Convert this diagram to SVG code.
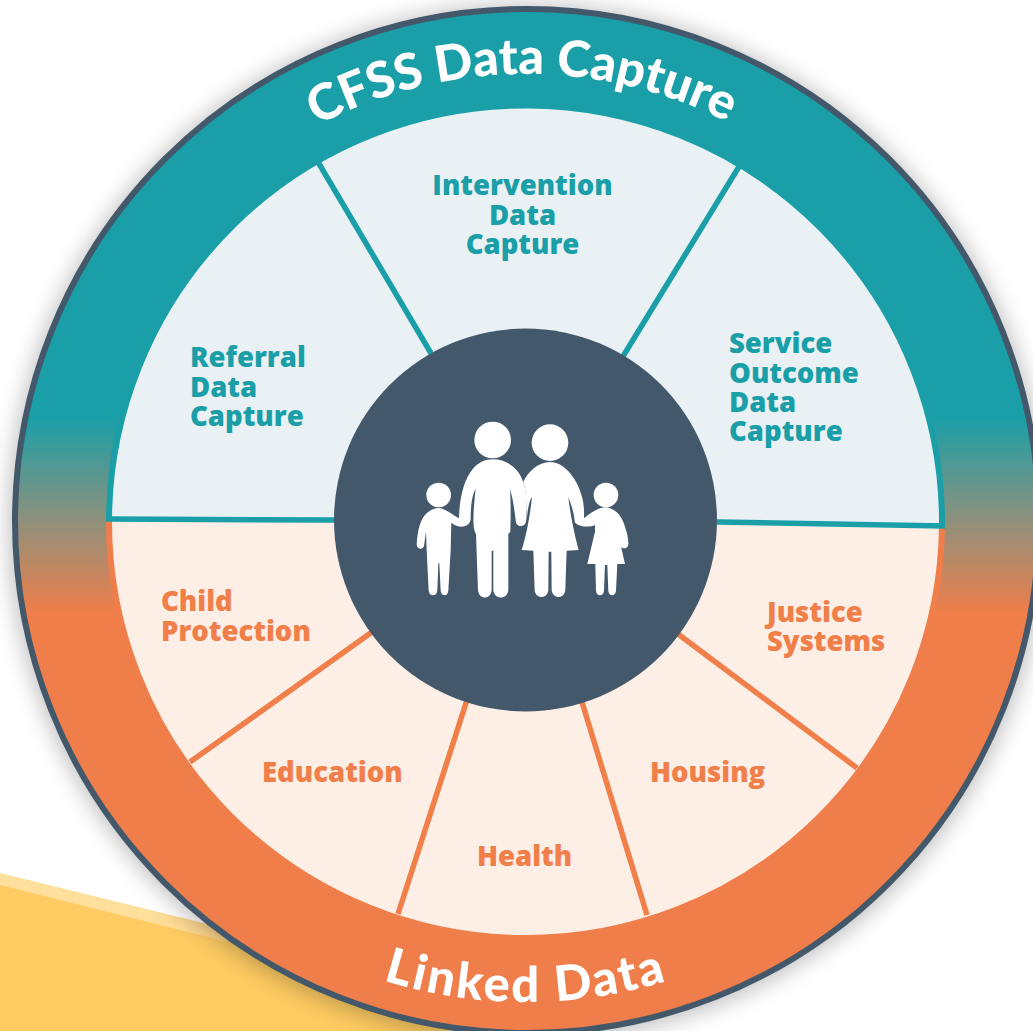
<svg xmlns="http://www.w3.org/2000/svg" width="1033" height="1031" viewBox="0 0 1033 1031">
<style>
.t{font-family:"Open Sans","Lato",sans-serif;font-weight:800;font-size:27.5px}
.teal{fill:#1a9fa8}.or{fill:#f07f4a}
.ring{font-family:"Lato","Open Sans",sans-serif;font-weight:900;font-size:50px;fill:#fff}
.ts{stroke:#1a9fa8;stroke-width:5.500;fill:none}.os{stroke:#f07f4a;stroke-width:5.500;fill:none}
</style>
<defs>
<linearGradient id="band" gradientUnits="userSpaceOnUse" x1="0" y1="5" x2="0" y2="1036">
<stop offset="0.4" stop-color="#1a9fa8"/><stop offset="0.505" stop-color="#94907a"/><stop offset="0.59" stop-color="#ef7e4a"/>
</linearGradient>
<linearGradient id="strip" gradientUnits="userSpaceOnUse" x1="0" y1="0" x2="240" y2="0">
<stop offset="0.6" stop-color="#fedf9c"/><stop offset="1" stop-color="#fcd286"/>
</linearGradient>
<filter id="sh" x="-10%" y="-10%" width="120%" height="120%"><feGaussianBlur stdDeviation="11"/></filter>
<path id="topArc" d="M 79 521 A 447 447 0 0 1 973 521"/>
<path id="botArc" d="M 45 521 A 481 481 0 0 0 1007 521"/>
</defs>
<rect width="1033" height="1031" fill="#fff"/>
<g id="background">
<path d="M0 873 L240 932 L600 1031 L0 1031Z" fill="url(#strip)"/>
<path d="M0 885 L240 945 L560 1031 L0 1031Z" fill="#fdcb62"/>
<circle cx="527" cy="523" r="518" fill="#000" opacity=".25" filter="url(#sh)"/>
</g>
<g id="wheel">
<circle cx="527" cy="521" r="512" fill="url(#band)" stroke="#43596b" stroke-width="6"/>
<path d="M109 520 A416.500 416.500 0 0 1 942 524" fill="#e9f1f5" stroke="#1a9fa8" stroke-width="6"/>
<path d="M109 520 A416.500 416 0 0 0 942 524" fill="#fdeee6" stroke="#ef7e4a" stroke-width="6"/>
</g>
<g id="connectors">
<path class="ts" d="M318 162L432 355M740 165L622 358M106 519L336 520M717 522L945 526"/>
<path class="os" d="M372 632L190 762M467 700L398 914M582 702L647 915M678 634L857 768"/>
</g>
<g id="hub">
<circle cx="525.500" cy="520" r="191.500" fill="#43596b"/>
<g transform="translate(380 390) scale(.3333)" fill="#fff">
<circle cx="338" cy="150" r="55"/><circle cx="510" cy="158" r="55"/><circle cx="176" cy="315" r="37"/><circle cx="678" cy="315" r="37"/>
<path d="M338 208C385 208 418 240 428 272C440 300 442 345 438 395C434 412 414 412 408 398C404 365 400 330 390 298C393 340 392 390 391 425L385 432L385 600C383 630 342 630 340 600L340 482L335 482L335 600C333 630 296 630 294 600L288 432C278 415 278 380 287 296C276 315 272 350 272 385C272 400 262 410 244 410C225 408 220 402 214 398L212 480L205 602C203 620 184 620 182 602L178 520L175 520L172 602C170 620 148 620 146 602L140 480L138 425L132 468C128 480 112 478 110 465C112 420 122 385 140 370C150 360 165 354 176 354C192 354 215 372 237 385C238 330 250 270 280 235C295 218 315 208 338 208Z"/>
<path d="M510 216C550 216 590 260 606 320C612 340 613 365 612 385C630 370 655 352 678 352C705 355 725 375 735 410C742 430 746 450 745 465C742 478 726 478 722 468L712 420L735 522L712 522L708 602C706 620 687 620 685 602L682 525L675 525L672 602C670 620 650 620 648 602L646 522L622 522L645 425L645 405C630 412 600 412 585 398C582 370 575 345 565 322C572 380 585 440 596 480L560 482L556 600C554 628 518 628 515 600L514 485L506 485L505 600C503 628 466 628 464 600L460 482L425 480C438 440 450 380 456 320C446 335 442 365 440 395C440 340 438 300 430 275C445 245 475 216 510 216Z"/>
</g>
</g>
<g id="ring-top"><text class="ring"><textPath href="#topArc" startOffset="49.700%" text-anchor="middle">CFSS Data Capture</textPath></text></g>
<g id="ring-bottom"><text class="ring" style="font-size:49px;letter-spacing:2.500px"><textPath href="#botArc" startOffset="50%" text-anchor="middle">Linked Data</textPath></text></g>
<g id="intervention"><text class="t teal" text-anchor="middle"><tspan x="522.500" y="195">Intervention</tspan><tspan x="522.500" y="224.500">Data</tspan><tspan x="522.500" y="254">Capture</tspan></text></g>
<g id="referral"><text class="t teal"><tspan x="190" y="367">Referral</tspan><tspan x="190" y="396.500">Data</tspan><tspan x="190" y="426">Capture</tspan></text></g>
<g id="service"><text class="t teal"><tspan x="729" y="353">Service</tspan><tspan x="729" y="382.500">Outcome</tspan><tspan x="729" y="412">Data</tspan><tspan x="729" y="441">Capture</tspan></text></g>
<g id="child"><text class="t or"><tspan x="161" y="611">Child</tspan><tspan x="161" y="641">Protection</tspan></text></g>
<g id="justice"><text class="t or"><tspan x="767" y="622">Justice</tspan><tspan x="767" y="651">Systems</tspan></text></g>
<g id="education"><text class="t or" x="262" y="782">Education</text></g>
<g id="housing"><text class="t or" x="650" y="782">Housing</text></g>
<g id="health"><text class="t or" x="477" y="866">Health</text></g>
</svg>
